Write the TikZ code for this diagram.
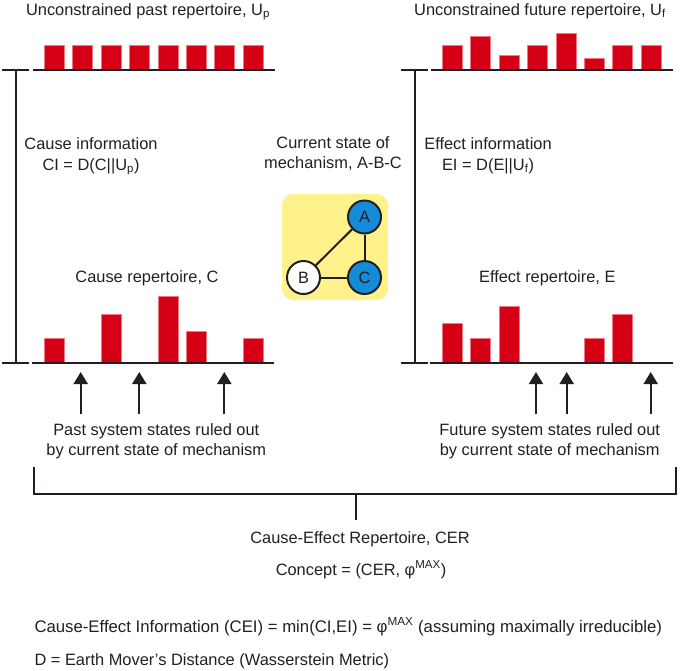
\documentclass[tikz,border=0pt]{standalone}
\usepackage{fontspec}
\setmainfont{Liberation Sans}
\usetikzlibrary{arrows.meta,positioning}
\definecolor{barred}{RGB}{214,0,22}
\definecolor{baredge}{RGB}{240,120,130}
\definecolor{mechyellow}{RGB}{255,242,140}
\definecolor{unitblue}{RGB}{20,140,215}
\definecolor{ink}{RGB}{35,31,32}
\newcommand{\lblfont}{\fontsize{16.4pt}{19.5pt}\selectfont}
\newcommand{\notefont}{\fontsize{16.75pt}{19.5pt}\selectfont}
\tikzstyle{axe} = [line width=2pt, ink]
\tikzstyle{barre} = [fill=barred, draw=baredge, line width=0.5pt]
\tikzstyle{fleche} = [-{Triangle[length=12pt,width=14pt]}, line width=2pt, ink]
\tikzstyle{etiq} = [font=\lblfont, text=ink, inner sep=0pt, align=center, anchor=base]
\tikzstyle{unit} = [circle, draw=ink, line width=2pt, minimum size=33pt, inner sep=0pt, font=\lblfont, text=ink]

\begin{document}
\begin{tikzpicture}[x=1pt,y=-1pt]
\useasboundingbox (0,0) rectangle (680,670);

%% Titres
	\node[etiq] (Up) at (148,15) {Unconstrained past repertoire, U\textsubscript{p}};
	\node[etiq] (Uf) at (540,15) {Unconstrained future repertoire, U\textsubscript{f}};

%% Barres (passe / futur, non contraintes)
	\foreach \i in {0,...,7}
		\draw[barre] (44.3+28.4*\i,69.5) rectangle ++(20,-24);
	\foreach \i/\h in {0/24, 1/33.5, 2/14.5, 3/24, 4/36, 5/11, 6/24, 7/24}
		\draw[barre] (442.3+28.4*\i,69.5) rectangle ++(20,-\h);

%% Barres (cause / effet)
	\foreach \i/\h in {0/24, 2/48, 4/66, 5/31, 7/24}
		\draw[barre] (44.3+28.4*\i,362.5) rectangle ++(20,-\h);
	\foreach \i/\h in {0/39, 1/24, 2/56, 5/24, 6/48}
		\draw[barre] (442.3+28.4*\i,362.5) rectangle ++(20,-\h);

%% Axes
	\draw[axe] (33,69.5) -- (275,69.5);
	\draw[axe] (32,362.5) -- (274,362.5);
	\draw[axe] (2,69.5) -- (29,69.5);
	\draw[axe] (2,362.5) -- (29,362.5);
	\draw[axe] (15.5,69.5) -- (15.5,362.5);

	\draw[axe] (431,69.5) -- (673,69.5);
	\draw[axe] (430,362.5) -- (672.5,362.5);
	\draw[axe] (401,69.5) -- (428,69.5);
	\draw[axe] (401,362.5) -- (428,362.5);
	\draw[axe] (414.5,69.5) -- (414.5,362.5);

%% Informations (base = derniere ligne)
	\node[etiq] (CI) at (91,170) {Cause information\\[1.5pt]CI = D(C||U\textsubscript{p})};
	\node[etiq] (EI) at (488,170) {Effect information\\[1.5pt]EI = D(E||U\textsubscript{f})};
	\node[etiq] (cur) at (333,168) {Current state of\\mechanism, A-B-C};

	\node[etiq] (C) at (147,282) {Cause repertoire, C};
	\node[etiq] (E) at (547.3,282) {Effect repertoire, E};

%% Mecanisme A-B-C
	\fill[mechyellow, rounded corners=11pt] (282,194) rectangle (388,300);
	\node[unit, fill=unitblue] (A) at (364.5,217) {A};
	\node[unit, fill=white] (B) at (303.5,277.5) {B};
	\node[unit, fill=unitblue] (Cn) at (364.5,277.5) {C};
	\draw[axe] (B) -- (A);
	\draw[axe] (B) -- (Cn);
	\draw[axe] (A) -- (Cn);

%% Etats exclus
	\foreach \n/\x in {1/80.7, 2/139.3, 3/224.3, 4/536, 5/566.7, 6/650.7}{
		\coordinate (bas\n) at (\x,414);
		\coordinate (haut\n) at (\x,372);
		\draw[fleche] (bas\n) -- (haut\n);
	}
	\node[etiq] (past) at (156.3,455) {Past system states ruled out\\by current state of mechanism};
	\node[etiq] (fut) at (549.7,455) {Future system states ruled out\\by current state of mechanism};

%% Accolade
	\draw[axe] (34.3,467) -- (34.3,494) -- (676,494) -- (676,467);
	\draw[axe] (355.7,494) -- (355.7,520);

%% Bas
	\node[etiq] (CER) at (360,543) {Cause-Effect Repertoire, CER};
	\node[etiq] (concept) at (361,575) {Concept = (CER, φ\textsuperscript{MAX})};
	\node[etiq, anchor=base west, font=\notefont] (CEI) at (34.3,632) {Cause-Effect Information (CEI) = min(CI,EI) = φ\textsuperscript{MAX} (assuming maximally irreducible)};
	\node[etiq, anchor=base west] (D) at (34.3,665) {D = Earth Mover’s Distance (Wasserstein Metric)};

\end{tikzpicture}
\end{document}
